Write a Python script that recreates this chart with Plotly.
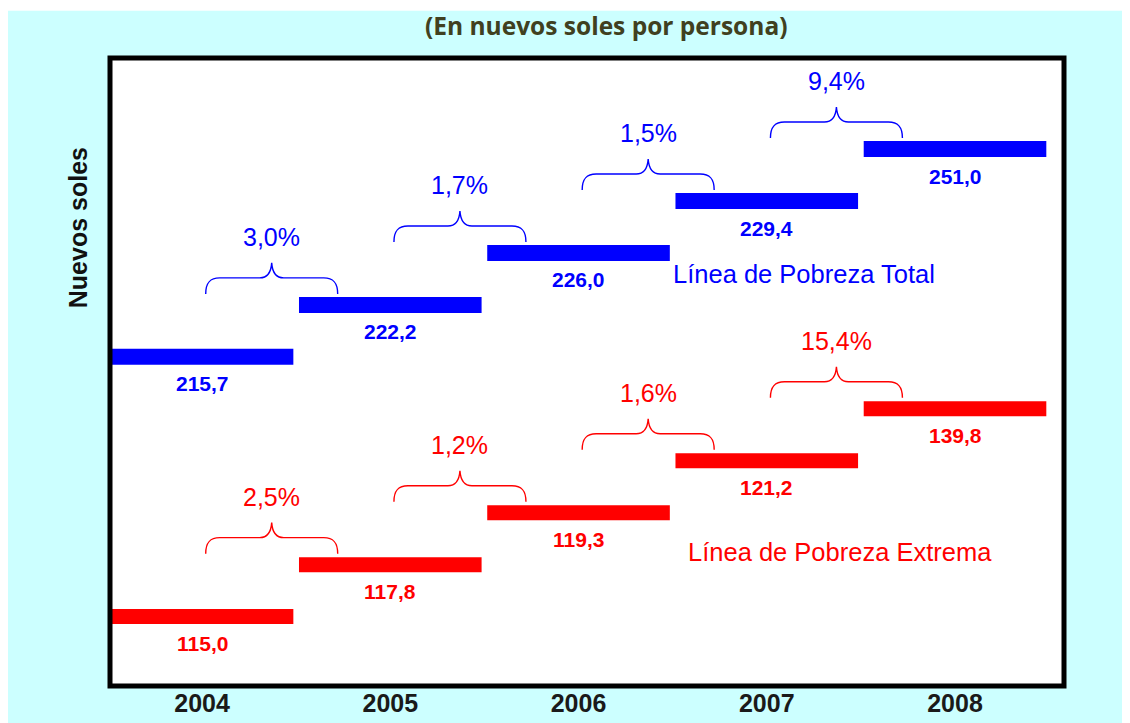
import plotly.graph_objects as go

# ---------------- data ----------------
years = [2004, 2005, 2006, 2007, 2008]
total_line = [215.7, 222.2, 226.0, 229.4, 251.0]      # Línea de Pobreza Total
extreme_line = [115.0, 117.8, 119.3, 121.2, 139.8]    # Línea de Pobreza Extrema
total_pct = [3.0, 1.7, 1.5, 9.4]                      # annual change, total
extreme_pct = [2.5, 1.2, 1.6, 15.4]                   # annual change, extreme

title_text = "(En nuevos soles por persona)"
y_title = "Nuevos soles"
total_name = "Línea de Pobreza Total"
extreme_name = "Línea de Pobreza Extrema"

BLUE = "#0000ff"
RED = "#ff0000"
FONT = "Liberation Sans"


def fmt(v):
    return f"{v:.1f}".replace(".", ",")


# ordinal (schematic) vertical scale: levels ordered by value
levels = sorted(total_line + extreme_line)
cat_array = [fmt(v) for v in levels]

HALF = 0.485      # half-width of a year step
BR_OFF = 0.37     # horizontal offset of the brace from the earlier year

BRACE = ("M -66,11 C -66,22 -62,27 -52,27 L -12,27 Q -1,27 0,42 "
         "Q 1,27 12,27 L 52,27 C 62,27 66,22 66,11")

fig = go.Figure()
annotations = []
shapes = []

for vals, pcts, color, width in [(extreme_line, extreme_pct, RED, 15),
                                 (total_line, total_pct, BLUE, 16)]:
    xs, ys = [], []
    for yr, v in zip(years, vals):
        xs += [yr - HALF, yr + HALF, None]
        ys += [fmt(v), fmt(v), None]
    fig.add_trace(go.Scatter(x=xs, y=ys, mode="lines",
                             line=dict(color=color, width=width),
                             hoverinfo="skip", showlegend=False))
    for yr, v in zip(years, vals):
        annotations.append(dict(x=yr, y=fmt(v), xref="x", yref="y",
                                text=fmt(v), showarrow=False, yshift=-27,
                                xanchor="center",
                                font=dict(family=FONT, size=21, color=color,
                                          weight="bold")))
    for i, p in enumerate(pcts):
        ax_x = years[i] + BR_OFF
        ax_y = fmt(vals[i + 1])
        shapes.append(dict(type="path", xref="x", yref="y",
                           xsizemode="pixel", ysizemode="pixel",
                           xanchor=ax_x, yanchor=ax_y, path=BRACE,
                           line=dict(color=color, width=1.4)))
        annotations.append(dict(x=ax_x, y=ax_y, xref="x", yref="y",
                                text=f"{p:.1f}".replace(".", ",") + "%",
                                showarrow=False, yshift=68, xanchor="center",
                                font=dict(family=FONT, size=25, color=color)))

# series names
annotations.append(dict(x=0.7275, y=0.656, xref="paper", yref="paper",
                        xanchor="center", yanchor="middle",
                        text=total_name, showarrow=False,
                        font=dict(family=FONT, size=25.5, color=BLUE)))
annotations.append(dict(x=0.765, y=0.2134, xref="paper", yref="paper",
                        xanchor="center", yanchor="middle",
                        text=extreme_name, showarrow=False,
                        font=dict(family=FONT, size=25.5, color=RED)))
# title
annotations.append(dict(x=0.52, y=1.0525, xref="paper", yref="paper",
                        xanchor="center", yanchor="middle",
                        text=title_text, showarrow=False,
                        font=dict(family="Open Sans", size=24.5, color="#404020",
                                  weight="bold")))
# y axis title
annotations.append(dict(x=-0.0335, y=0.729, xref="paper", yref="paper",
                        xanchor="center", yanchor="middle",
                        text=y_title, showarrow=False, textangle=-90,
                        font=dict(family=FONT, size=25, color="#111111",
                                  weight="bold")))

# thin white strip at the very top
shapes.append(dict(type="rect", xref="paper", yref="paper",
                   x0=-0.2, x1=1.2, y0=1.0753, y1=1.2,
                   fillcolor="white", line=dict(width=0), layer="below"))
# plot frame
shapes.append(dict(type="rect", xref="paper", yref="paper",
                   x0=0, x1=1, y0=0, y1=1, line=dict(color="black", width=5),
                   layer="above"))

fig.update_layout(
    width=1130, height=723,
    margin=dict(l=102, r=74, t=50, b=45),
    paper_bgcolor="#ccffff", plot_bgcolor="white",
    showlegend=False,
    annotations=annotations, shapes=shapes,
    xaxis=dict(range=[2003.511, 2008.579], tickvals=years,
               ticktext=[str(y) for y in years], showgrid=False,
               zeroline=False, showline=False, ticks="",
               ticklabelstandoff=0,
               tickfont=dict(family=FONT, size=25, color="#1a1a1a",
                             weight="bold")),
    yaxis=dict(type="category", categoryorder="array", categoryarray=cat_array,
               range=[-1.336, 10.753], showticklabels=False, showgrid=False,
               zeroline=False, showline=False, ticks=""),
)

fig.write_html("out.html")
